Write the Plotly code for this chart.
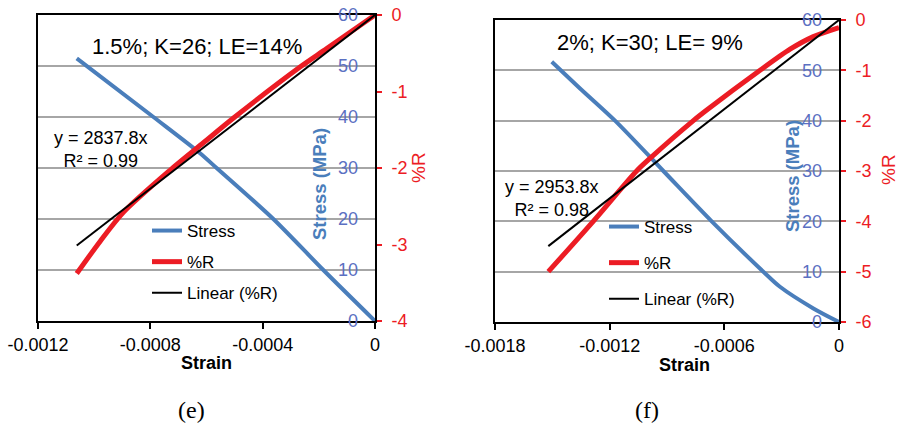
import plotly.graph_objects as go

W, H = 899, 429

# ---------------- Panel (e) data ----------------
e_stress_strain = [-0.001062, -0.000789, -0.000623, -0.000564, -0.000362, -0.000184, 0.0]
e_stress = [51.5, 40.0, 32.9, 30.0, 20.0, 10.0, 0.0]
e_r_strain = [-0.001062, -0.000979, -0.000896, -0.00073, -0.000611, -0.000505, -0.000267, -0.000172, 0.0]
e_r = [-3.38, -2.96, -2.58, -2.03, -1.67, -1.35, -0.68, -0.44, 0.0]
e_slope = 2837.8
e_r2 = 0.99
e_title = "1.5%; K=26; LE=14%"
e_x_tickvals = [-0.0012, -0.0008, -0.0004, 0]
e_x_ticktext = ["-0.0012", "-0.0008", "-0.0004", "0"]
e_r_tickvals = [0, -1, -2, -3, -4]
e_r_ticktext = ["0", "-1", "-2", "-3", "-4"]

# ---------------- Panel (f) data ----------------
f_stress_strain = [-0.001503, -0.001355, -0.001172, -0.000919, -0.000666, -0.000396, -0.000309, -0.000134, 0.0]
f_stress = [51.7, 46.4, 40.0, 30.0, 20.0, 10.0, 7.0, 2.7, 0.0]
f_r_strain = [-0.001521, -0.001286, -0.001059, -0.000989, -0.000762, -0.000692, -0.000413, -0.000256, -0.000134, 0.0]
f_r = [-5.00, -4.00, -3.00, -2.75, -2.00, -1.79, -1.00, -0.58, -0.33, -0.15]
f_slope = 2953.8
f_r2 = 0.98
f_title = "2%; K=30; LE= 9%"
f_x_tickvals = [-0.0018, -0.0012, -0.0006, 0]
f_x_ticktext = ["-0.0018", "-0.0012", "-0.0006", "0"]
f_r_tickvals = [0, -1, -2, -3, -4, -5, -6]
f_r_ticktext = ["0", "-1", "-2", "-3", "-4", "-5", "-6"]

stress_tickvals = [0, 10, 20, 30, 40, 50, 60]

BLUE = "#4A7EBB"
BLUE_TXT = "#5B70C2"
RED = "#EC1C24"
GRID = "#A6A6A6"
FONT = "Liberation Sans, Arial, sans-serif"


def fx(px):
    return px / W


def fy(py):
    return 1 - py / H


fig = go.Figure()

# ---- traces panel e
fig.add_trace(go.Scatter(x=e_stress_strain, y=e_stress, mode="lines", name="Stress",
                         line=dict(color=BLUE, width=4, shape="spline", smoothing=0.8),
                         xaxis="x", yaxis="y", legend="legend", legendgroup="e1"))
fig.add_trace(go.Scatter(x=e_r_strain, y=e_r, mode="lines", name="%R",
                         line=dict(color=RED, width=5, shape="spline", smoothing=0.8),
                         xaxis="x", yaxis="y2", legend="legend", legendgroup="e2"))
fig.add_trace(go.Scatter(x=[e_r_strain[0], 0], y=[e_slope * e_r_strain[0], 0], mode="lines",
                         name="Linear (%R)", line=dict(color="black", width=2),
                         xaxis="x", yaxis="y2", legend="legend", legendgroup="e3"))

# ---- traces panel f
fig.add_trace(go.Scatter(x=f_stress_strain, y=f_stress, mode="lines", name="Stress",
                         line=dict(color=BLUE, width=4, shape="spline", smoothing=0.8),
                         xaxis="x2", yaxis="y3", legend="legend2", legendgroup="f1"))
fig.add_trace(go.Scatter(x=f_r_strain, y=f_r, mode="lines", name="%R",
                         line=dict(color=RED, width=5, shape="spline", smoothing=0.8),
                         xaxis="x2", yaxis="y4", legend="legend2", legendgroup="f2"))
fig.add_trace(go.Scatter(x=[f_r_strain[0], 0], y=[f_slope * f_r_strain[0], 0], mode="lines",
                         name="Linear (%R)", line=dict(color="black", width=2),
                         xaxis="x2", yaxis="y4", legend="legend2", legendgroup="f3"))


def xaxis_cfg(dom, rng, tv, tt, anchor):
    return dict(domain=dom, range=rng, anchor=anchor, tickvals=tv, ticktext=tt,
                showline=True, linecolor="black", linewidth=2, mirror=True,
                ticks="outside", ticklen=6, tickwidth=1.5, tickcolor="black",
                tickfont=dict(family=FONT, size=18, color="black"),
                showgrid=False, zeroline=False, automargin=False)


def stress_cfg(dom, pos):
    # stress axis crosses at strain = 0 (right edge); labels sit to its left
    return dict(domain=dom, range=[0, 60], anchor="free", position=pos, side="left",
                tickvals=stress_tickvals, ticks="", ticklabelstandoff=17,
                tickfont=dict(family=FONT, size=18, color=BLUE_TXT),
                showline=False, showgrid=True, gridcolor=GRID, gridwidth=1.5,
                zeroline=False, automargin=False)


def r_cfg(over, anchor, rng, tv, tt):
    return dict(overlaying=over, anchor=anchor, side="right", range=rng,
                tickvals=tv, ticktext=tt, ticks="outside", ticklen=5, tickwidth=1.5,
                tickcolor=RED, ticklabelstandoff=6,
                tickfont=dict(family=FONT, size=18, color=RED),
                showline=True, linecolor="black", linewidth=2, mirror=True,
                showgrid=False, zeroline=False, automargin=False)


ann = []


def text(px, py, s, size, color="black", bold=False, angle=0, family=FONT):
    ann.append(dict(x=fx(px), y=fy(py), xref="paper", yref="paper", text=("<b>%s</b>" % s) if bold else s,
                    showarrow=False, textangle=angle, xanchor="center", yanchor="middle",
                    font=dict(family=family, size=size, color=color)))


# panel e texts
text(197, 47, e_title, 22)
text(101, 149, "y = %.1fx<br>R² = %.2f" % (e_slope, e_r2), 18)
text(206, 363, "Strain", 18, bold=True)
text(319, 184, "Stress (MPa)", 18.5, color=BLUE, bold=True, angle=-90)
text(418, 168, "%R", 19, color=RED, angle=-90)
text(191, 410, "(e)", 24, family="Liberation Serif, Times New Roman, serif")

# panel f texts
text(650, 42, f_title, 22)
text(552, 198, "y = %.1fx<br>R² = %.2f" % (f_slope, f_r2), 18)
text(684, 365, "Strain", 18, bold=True)
text(792, 176, "Stress (MPa)", 18.5, color=BLUE, bold=True, angle=-90)
text(888, 170, "%R", 19, color=RED, angle=-90)
text(647, 410, "(f)", 24, family="Liberation Serif, Times New Roman, serif")

fig.update_layout(
    width=W, height=H, autosize=False,
    margin=dict(l=0, r=0, t=0, b=0, autoexpand=False),
    paper_bgcolor="white", plot_bgcolor="white",
    font=dict(family=FONT),
    xaxis=xaxis_cfg([fx(38), fx(375)], [-0.0012, 0], e_x_tickvals, e_x_ticktext, "y2"),
    yaxis=stress_cfg([fy(321), fy(15)], fx(375)),
    yaxis2=r_cfg("y", "x", [-4, 0], e_r_tickvals, e_r_ticktext),
    xaxis2=xaxis_cfg([fx(495), fx(839)], [-0.0018, 0], f_x_tickvals, f_x_ticktext, "y4"),
    yaxis3=stress_cfg([fy(322), fy(20)], fx(839)),
    yaxis4=r_cfg("y3", "x2", [-6, 0], f_r_tickvals, f_r_ticktext),
    legend=dict(x=fx(147), y=fy(213), xanchor="left", yanchor="top",
                bgcolor="rgba(0,0,0,0)", borderwidth=0, traceorder="grouped",
                tracegroupgap=6, font=dict(family=FONT, size=17, color="black")),
    legend2=dict(x=fx(604), y=fy(209), xanchor="left", yanchor="top",
                 bgcolor="rgba(0,0,0,0)", borderwidth=0, traceorder="grouped",
                 tracegroupgap=11, font=dict(family=FONT, size=17, color="black")),
    annotations=ann,
    showlegend=True,
)

fig.write_html("out.html", config={"displayModeBar": False},
               post_script="document.body.style.margin='0';document.body.style.overflow='hidden';")
